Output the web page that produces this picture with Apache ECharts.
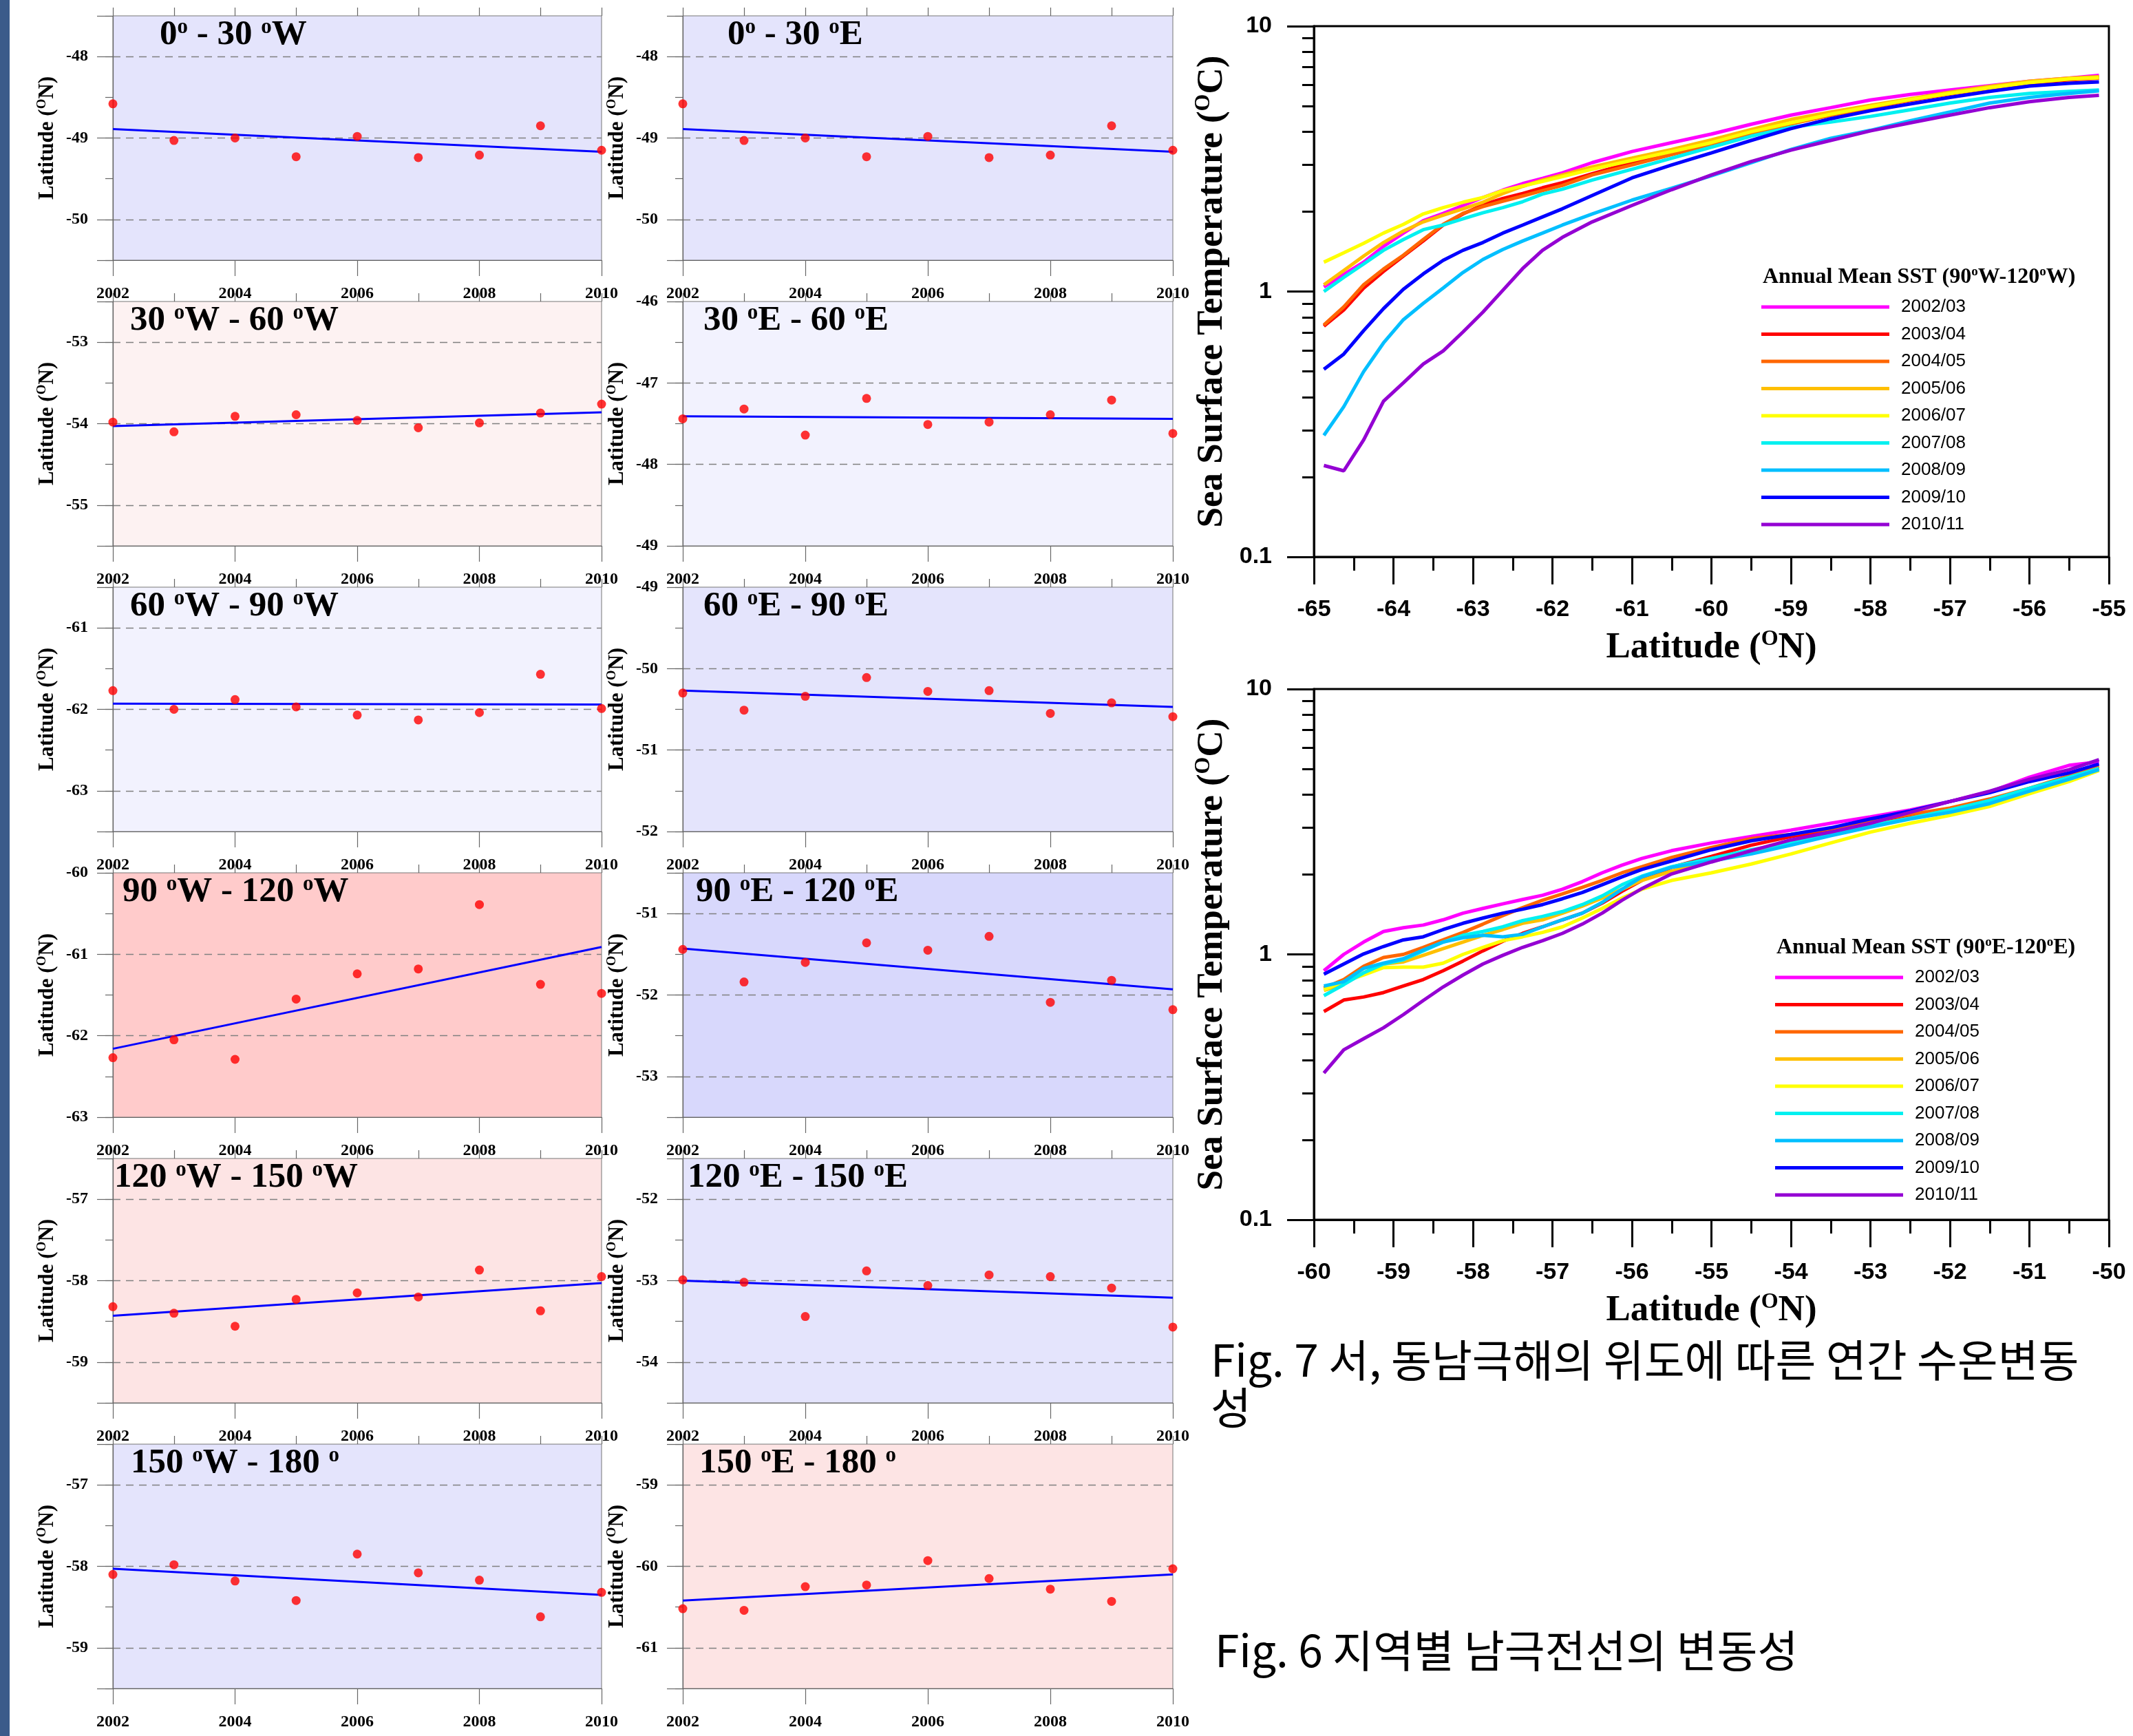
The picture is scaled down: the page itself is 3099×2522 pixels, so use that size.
<!DOCTYPE html>
<html>
<head>
<meta charset="utf-8">
<title>Fig. 6 / Fig. 7</title>
<script src="https://cdn.jsdelivr.net/npm/echarts@6/dist/echarts.min.js"></script>
<style>
html, body { margin: 0; padding: 0; background: #fff; }
#main { width: 3099px; height: 2522px; }
</style>
</head>
<body>
<div id="main"></div>
<script>
// ---- Fig. 6 : front latitude per year, 12 sectors ----
var years = [2002, 2003, 2004, 2005, 2006, 2007, 2008, 2009, 2010];

var front_0_30W    = [-48.58, -49.03, -49.00, -49.23, -48.98, -49.24, -49.21, -48.85, -49.15];
var front_0_30E    = [-48.58, -49.03, -49.00, -49.23, -48.98, -49.24, -49.21, -48.85, -49.15];
var front_30_60W   = [-53.98, -54.10, -53.91, -53.89, -53.96, -54.05, -53.99, -53.87, -53.76];
var front_30_60E   = [-47.44, -47.32, -47.64, -47.19, -47.51, -47.48, -47.39, -47.21, -47.62];
var front_60_90W   = [-61.77, -62.00, -61.88, -61.97, -62.07, -62.13, -62.04, -61.57, -61.99];
var front_60_90E   = [-50.30, -50.51, -50.34, -50.11, -50.28, -50.27, -50.55, -50.42, -50.59];
var front_90_120W  = [-62.27, -62.05, -62.29, -61.55, -61.24, -61.18, -60.39, -61.37, -61.48];
var front_90_120E  = [-51.44, -51.84, -51.60, -51.36, -51.45, -51.28, -52.09, -51.82, -52.18];
var front_120_150W = [-58.32, -58.40, -58.56, -58.23, -58.15, -58.20, -57.87, -58.37, -57.95];
var front_120_150E = [-52.99, -53.02, -53.44, -52.88, -53.06, -52.93, -52.95, -53.09, -53.57];
var front_150_180W = [-58.10, -57.98, -58.18, -58.42, -57.85, -58.08, -58.17, -58.62, -58.32];
var front_150_180E = [-60.52, -60.54, -60.25, -60.23, -59.93, -60.15, -60.28, -60.43, -60.03];

// trend line value at 2002 and at 2010
var trend_0_30W    = [-48.89, -49.17];
var trend_0_30E    = [-48.89, -49.17];
var trend_30_60W   = [-54.03, -53.86];
var trend_30_60E   = [-47.41, -47.44];
var trend_60_90W   = [-61.93, -61.94];
var trend_60_90E   = [-50.27, -50.47];
var trend_90_120W  = [-62.16, -60.91];
var trend_90_120E  = [-51.43, -51.93];
var trend_120_150W = [-58.43, -58.03];
var trend_120_150E = [-53.00, -53.21];
var trend_150_180W = [-58.03, -58.35];
var trend_150_180E = [-60.42, -60.10];

// y axis ranges
var range_0_30W    = [-50.5, -47.5];
var range_0_30E    = [-50.5, -47.5];
var range_30_60W   = [-55.5, -52.5];
var range_30_60E   = [-49, -46];
var range_60_90W   = [-63.5, -60.5];
var range_60_90E   = [-52, -49];
var range_90_120W  = [-63, -60];
var range_90_120E  = [-53.5, -50.5];
var range_120_150W = [-59.5, -56.5];
var range_120_150E = [-54.5, -51.5];
var range_150_180W = [-59.5, -56.5];
var range_150_180E = [-61.5, -58.5];

var panelTitles = [
    '{m|0}{s|o}{m| - 30 }{s|o}{m|W}', '{m|0}{s|o}{m| - 30 }{s|o}{m|E}',
    '{m|30 }{s|o}{m|W - 60 }{s|o}{m|W}', '{m|30 }{s|o}{m|E - 60 }{s|o}{m|E}',
    '{m|60 }{s|o}{m|W - 90 }{s|o}{m|W}', '{m|60 }{s|o}{m|E - 90 }{s|o}{m|E}',
    '{m|90 }{s|o}{m|W - 120 }{s|o}{m|W}', '{m|90 }{s|o}{m|E - 120 }{s|o}{m|E}',
    '{m|120 }{s|o}{m|W - 150 }{s|o}{m|W}', '{m|120 }{s|o}{m|E - 150 }{s|o}{m|E}',
    '{m|150 }{s|o}{m|W - 180 }{s|o}', '{m|150 }{s|o}{m|E - 180 }{s|o}'
];

// ---- Fig. 7 : annual mean SST against latitude ----
var seasons = ['2002/03', '2003/04', '2004/05', '2005/06', '2006/07', '2007/08', '2008/09', '2009/10', '2010/11'];

var latW = [-64.875, -64.625, -64.375, -64.125, -63.875, -63.625, -63.375, -63.125, -62.875, -62.625,
            -62.375, -62.125, -61.875, -61.5, -61, -60.5, -60, -59.5, -59, -58.5, -58, -57.5, -57,
            -56.5, -56, -55.5, -55.125];
var sstW_0203 = [1.04, 1.16, 1.29, 1.48, 1.66, 1.85, 1.97, 2.11, 2.26, 2.41, 2.55, 2.67, 2.80, 3.06, 3.37, 3.64, 3.92, 4.27, 4.62, 4.93, 5.27, 5.53, 5.75, 5.97, 6.20, 6.37, 6.52];
var sstW_0304 = [0.74, 0.852, 1.03, 1.19, 1.36, 1.55, 1.78, 1.96, 2.12, 2.24, 2.34, 2.46, 2.57, 2.78, 3.06, 3.30, 3.59, 3.98, 4.30, 4.62, 4.93, 5.25, 5.55, 5.84, 6.09, 6.28, 6.37];
var sstW_0405 = [0.748, 0.875, 1.06, 1.215, 1.37, 1.57, 1.79, 1.97, 2.09, 2.19, 2.29, 2.40, 2.51, 2.75, 3.00, 3.28, 3.57, 3.95, 4.28, 4.62, 4.93, 5.27, 5.58, 5.86, 6.13, 6.32, 6.42];
var sstW_0506 = [1.06, 1.20, 1.36, 1.53, 1.69, 1.83, 1.94, 2.05, 2.17, 2.34, 2.49, 2.63, 2.75, 2.95, 3.18, 3.43, 3.73, 4.08, 4.45, 4.75, 5.03, 5.33, 5.64, 5.93, 6.20, 6.37, 6.45];
var sstW_0607 = [1.29, 1.40, 1.52, 1.66, 1.79, 1.96, 2.07, 2.17, 2.26, 2.40, 2.50, 2.60, 2.71, 2.89, 3.12, 3.37, 3.64, 4.00, 4.32, 4.66, 4.97, 5.29, 5.58, 5.86, 6.13, 6.32, 6.39];
var sstW_0708 = [1.00, 1.13, 1.27, 1.43, 1.57, 1.71, 1.78, 1.88, 1.98, 2.07, 2.18, 2.33, 2.43, 2.63, 2.89, 3.18, 3.50, 3.85, 4.16, 4.35, 4.57, 4.84, 5.13, 5.39, 5.58, 5.68, 5.75];
var sstW_0809 = [0.287, 0.368, 0.499, 0.64, 0.783, 0.902, 1.03, 1.18, 1.32, 1.44, 1.55, 1.66, 1.78, 1.96, 2.21, 2.45, 2.73, 3.06, 3.43, 3.78, 4.05, 4.40, 4.75, 5.13, 5.39, 5.58, 5.70];
var sstW_0910 = [0.509, 0.581, 0.712, 0.862, 1.02, 1.165, 1.31, 1.43, 1.53, 1.66, 1.78, 1.91, 2.05, 2.30, 2.68, 3.00, 3.33, 3.71, 4.11, 4.48, 4.80, 5.09, 5.39, 5.68, 5.95, 6.09, 6.16];
var sstW_1011 = [0.221, 0.211, 0.276, 0.386, 0.453, 0.533, 0.597, 0.704, 0.836, 1.01, 1.22, 1.43, 1.60, 1.83, 2.11, 2.42, 2.75, 3.09, 3.41, 3.71, 4.03, 4.32, 4.62, 4.93, 5.19, 5.39, 5.49];

var latE = [-59.875, -59.625, -59.375, -59.125, -58.875, -58.625, -58.375, -58.125, -57.875, -57.625,
            -57.375, -57.125, -56.875, -56.625, -56.375, -56.125, -55.875, -55.5, -55, -54.5, -54,
            -53.5, -53, -52.5, -52, -51.5, -51, -50.5, -50.125];
var sstE_0203 = [0.868, 1.0, 1.113, 1.22, 1.26, 1.29, 1.35, 1.43, 1.49, 1.55, 1.61, 1.67, 1.76, 1.88, 2.03, 2.17, 2.30, 2.46, 2.63, 2.78, 2.94, 3.12, 3.30, 3.50, 3.77, 4.10, 4.65, 5.16, 5.32];
var sstE_0304 = [0.609, 0.673, 0.691, 0.718, 0.76, 0.804, 0.868, 0.944, 1.031, 1.121, 1.20, 1.27, 1.35, 1.43, 1.56, 1.73, 1.90, 2.13, 2.34, 2.58, 2.78, 2.94, 3.12, 3.30, 3.52, 3.80, 4.20, 4.65, 5.02];
var sstE_0405 = [0.746, 0.804, 0.902, 0.974, 1.0, 1.063, 1.134, 1.21, 1.30, 1.40, 1.50, 1.60, 1.69, 1.79, 1.90, 2.03, 2.14, 2.32, 2.53, 2.73, 2.83, 2.98, 3.18, 3.37, 3.56, 3.85, 4.23, 4.71, 5.12];
var sstE_0506 = [0.731, 0.774, 0.852, 0.92, 0.937, 0.992, 1.051, 1.113, 1.18, 1.24, 1.31, 1.35, 1.43, 1.52, 1.63, 1.76, 1.90, 2.06, 2.25, 2.43, 2.63, 2.83, 3.06, 3.26, 3.50, 3.77, 4.15, 4.60, 5.02];
var sstE_0607 = [0.737, 0.789, 0.836, 0.892, 0.895, 0.895, 0.927, 1.0, 1.063, 1.126, 1.165, 1.21, 1.27, 1.37, 1.49, 1.63, 1.76, 1.90, 2.03, 2.19, 2.39, 2.63, 2.89, 3.12, 3.34, 3.61, 4.03, 4.48, 4.93];
var sstE_0708 = [0.699, 0.769, 0.852, 0.92, 0.955, 1.031, 1.113, 1.18, 1.22, 1.27, 1.34, 1.39, 1.45, 1.54, 1.66, 1.83, 1.97, 2.14, 2.30, 2.48, 2.63, 2.83, 3.06, 3.26, 3.50, 3.80, 4.23, 4.65, 5.02];
var sstE_0809 = [0.76, 0.789, 0.885, 0.927, 0.963, 1.039, 1.113, 1.156, 1.18, 1.165, 1.19, 1.27, 1.35, 1.43, 1.57, 1.76, 1.96, 2.13, 2.25, 2.39, 2.58, 2.80, 3.02, 3.24, 3.43, 3.70, 4.12, 4.57, 4.97];
var sstE_0910 = [0.842, 0.92, 1.004, 1.071, 1.134, 1.165, 1.24, 1.31, 1.37, 1.43, 1.48, 1.54, 1.62, 1.71, 1.83, 1.96, 2.09, 2.25, 2.48, 2.68, 2.83, 3.00, 3.24, 3.47, 3.77, 4.07, 4.48, 4.83, 5.22];
var sstE_1011 = [0.357, 0.437, 0.481, 0.529, 0.593, 0.67, 0.754, 0.836, 0.92, 0.992, 1.063, 1.126, 1.20, 1.30, 1.43, 1.60, 1.77, 2.01, 2.23, 2.46, 2.70, 2.89, 3.12, 3.43, 3.77, 4.12, 4.57, 4.97, 5.42];

var sstMinorTicks = [0.2, 0.3, 0.4, 0.5, 0.6, 0.7, 0.8, 0.9, 2, 3, 4, 5, 6, 7, 8, 9];

// ---- styles ----
var serif = 'Liberation Serif';
var sans = 'Liberation Sans';
var panelBg = ['#e4e4fc', '#e4e4fc', '#fdf2f2', '#f2f2fe', '#f2f2fe', '#e4e4fc',
               '#ffcbcb', '#d8d8fc', '#fde4e4', '#e4e4fc', '#e4e4fc', '#fde4e4'];
var titleLeft = [232, 1057, 189, 1022, 189, 1022, 178, 1011, 166, 999, 190, 1016];
var seasonColors = ['#ff00ff', '#ff0000', '#ff6600', '#ffbf00', '#ffff00', '#00f0f0', '#00bfff', '#0000ff', '#9400d3'];

var panelFront = [front_0_30W, front_0_30E, front_30_60W, front_30_60E, front_60_90W, front_60_90E,
                  front_90_120W, front_90_120E, front_120_150W, front_120_150E, front_150_180W, front_150_180E];
var panelTrend = [trend_0_30W, trend_0_30E, trend_30_60W, trend_30_60E, trend_60_90W, trend_60_90E,
                  trend_90_120W, trend_90_120E, trend_120_150W, trend_120_150E, trend_150_180W, trend_150_180E];
var panelRange = [range_0_30W, range_0_30E, range_30_60W, range_30_60E, range_60_90W, range_60_90E,
                  range_90_120W, range_90_120E, range_120_150W, range_120_150E, range_150_180W, range_150_180E];

var option = {
    animation: false,
    backgroundColor: '#ffffff',
    grid: [], xAxis: [], yAxis: [], series: [], title: [], legend: [], graphic: []
};

var grayAxis = {color: '#666', width: 1.2};
var smallLabel = {fontFamily: serif, fontWeight: 'bold', fontSize: 24, color: '#000'};

panelFront.forEach(function (front, i) {
    var col = i % 2, row = Math.floor(i / 2);
    var left = col === 0 ? 164 : 992;
    var top = 23 + row * 415;
    option.grid.push({
        left: left, top: top, width: col === 0 ? 710 : 712, height: 355,
        show: true, backgroundColor: panelBg[i], borderColor: '#777', borderWidth: 1
    });
    option.xAxis.push({
        gridIndex: i, type: 'value', min: 2002, max: 2010, interval: 2,
        axisLine: {lineStyle: grayAxis},
        axisTick: {length: 23, lineStyle: grayAxis},
        axisLabel: Object.assign({margin: 37, formatter: function (v) { return String(v); }}, smallLabel),
        splitLine: {show: false}
    }, {
        gridIndex: i, type: 'value', min: 2002, max: 2010, interval: 1,
        axisLine: {show: false},
        axisTick: {length: 12, lineStyle: grayAxis},
        axisLabel: {show: false},
        splitLine: {show: false}
    });
    option.yAxis.push({
        gridIndex: i, type: 'value', min: panelRange[i][0], max: panelRange[i][1], splitNumber: 3,
        axisLine: {show: true, lineStyle: grayAxis},
        axisTick: {length: 23, lineStyle: grayAxis},
        axisLabel: Object.assign({margin: 36, formatter: function (v) { return v % 1 === 0 ? String(v) : ''; }}, smallLabel),
        splitLine: {show: true, showMinLine: false, showMaxLine: false,
                    lineStyle: {type: [11, 8], color: '#808080', width: 1.4}},
        name: '{t|Latitude (}{s|O}{t|N)}', nameLocation: 'middle', nameRotate: 90, nameGap: 78,
        nameTextStyle: {rich: {
            t: {fontFamily: serif, fontWeight: 'bold', fontSize: 31, lineHeight: 34, color: '#000'},
            s: {fontFamily: serif, fontWeight: 'bold', fontSize: 19, lineHeight: 19, verticalAlign: 'top', color: '#000'}
        }}
    }, {
        gridIndex: i, type: 'value', min: panelRange[i][0], max: panelRange[i][1], interval: 0.5,
        position: 'left',
        axisLine: {show: false},
        axisTick: {length: 11, lineStyle: grayAxis},
        axisLabel: {show: false},
        splitLine: {show: false}
    });
    option.series.push({
        type: 'line', xAxisIndex: 2 * i, yAxisIndex: 2 * i, clip: false, silent: true,
        data: [[2002, panelTrend[i][0]], [2010, panelTrend[i][1]]],
        symbol: 'none', lineStyle: {color: '#0000ff', width: 3}, z: 3
    }, {
        type: 'scatter', xAxisIndex: 2 * i, yAxisIndex: 2 * i, clip: false, silent: true,
        data: years.map(function (y, k) { return [y, front[k]]; }),
        symbol: 'circle', symbolSize: 13, itemStyle: {color: '#ff0000'}, z: 4
    });
    option.title.push({
        text: panelTitles[i], left: titleLeft[i], top: top + 1, padding: 0,
        textStyle: {rich: {
            m: {fontFamily: serif, fontWeight: 'bold', fontSize: 51, lineHeight: 54, color: '#000'},
            s: {fontFamily: serif, fontWeight: 'bold', fontSize: 31, lineHeight: 31, verticalAlign: 'top', color: '#000'}
        }}
    });
});

// two SST panels
var bigRich = {
    t: {fontFamily: serif, fontWeight: 'bold', fontSize: 53, lineHeight: 56, color: '#000'},
    s: {fontFamily: serif, fontWeight: 'bold', fontSize: 32, lineHeight: 32, verticalAlign: 'top', color: '#000'}
};
var blackAxis = {color: '#000', width: 3};

var addSstChart = function (g, top, lat, xmin, rows, legendTitle, legendLeft, legendTop) {
    var xi = option.xAxis.length, yi = option.yAxis.length;
    option.grid.push({left: 1909, top: top, width: 1155, height: 771, show: true, borderColor: '#000', borderWidth: 3});
    option.xAxis.push({
        gridIndex: g, type: 'value', min: xmin, max: xmin + 10, interval: 1,
        axisLine: {lineStyle: blackAxis},
        axisTick: {length: 40, lineStyle: blackAxis},
        minorTick: {show: true, splitNumber: 2, length: 20, lineStyle: blackAxis},
        axisLabel: {margin: 60, fontFamily: sans, fontWeight: 'bold', fontSize: 34, color: '#000',
                    formatter: function (v) { return String(v); }},
        splitLine: {show: false},
        name: '{t|Latitude (}{s|O}{t|N)}', nameLocation: 'middle', nameGap: 104,
        nameTextStyle: {rich: bigRich}
    });
    option.yAxis.push({
        gridIndex: g, type: 'log', logBase: 10, min: 0.1, max: 10,
        axisLine: {show: true, lineStyle: blackAxis},
        axisTick: {length: 39, lineStyle: blackAxis},
        axisLabel: {margin: 61, fontFamily: sans, fontWeight: 'bold', fontSize: 34, color: '#000',
                    formatter: function (v) { return String(+(+v).toPrecision(3)); }},
        splitLine: {show: false},
        name: '{t|Sea Surface Temperature (}{s|O}{t|C)}', nameLocation: 'middle', nameRotate: 90, nameGap: 120,
        nameTextStyle: {rich: bigRich}
    }, {
        gridIndex: g, type: 'log', logBase: 10, min: 0.1, max: 10, position: 'left',
        axisLine: {show: false},
        axisTick: {length: 17, lineStyle: blackAxis, customValues: sstMinorTicks},
        axisLabel: {show: false},
        splitLine: {show: false}
    });
    rows.forEach(function (vals, k) {
        option.series.push({
            name: seasons[k], type: 'line', xAxisIndex: xi, yAxisIndex: yi, silent: true,
            data: lat.map(function (x, j) { return [x, vals[j]]; }),
            symbol: 'none', color: seasonColors[k],
            lineStyle: {color: seasonColors[k], width: 5},
            itemStyle: {color: seasonColors[k]}, z: 3
        });
    });
    option.legend.push({
        left: legendLeft, top: legendTop, orient: 'vertical', icon: 'rect',
        itemWidth: 186, itemHeight: 5, itemGap: 13.5, selectedMode: false, padding: 0,
        data: seasons,
        textStyle: {fontFamily: sans, fontSize: 26, lineHeight: 26, color: '#000', padding: [0, 0, 0, 12]}
    });
    option.title.push({
        text: legendTitle, left: legendLeft + 2, top: legendTop - 47, padding: 0,
        textStyle: {rich: {
            b: {fontFamily: serif, fontWeight: 'bold', fontSize: 32, lineHeight: 34, color: '#000'},
            s: {fontFamily: serif, fontWeight: 'bold', fontSize: 19, lineHeight: 19, verticalAlign: 'top', color: '#000'}
        }}
    });
};

addSstChart(12, 38, latW, -65,
    [sstW_0203, sstW_0304, sstW_0405, sstW_0506, sstW_0607, sstW_0708, sstW_0809, sstW_0910, sstW_1011],
    '{b|Annual Mean SST (90}{s|o}{b|W-120}{s|o}{b|W)}', 2559, 433);
addSstChart(13, 1001, latE, -60,
    [sstE_0203, sstE_0304, sstE_0405, sstE_0506, sstE_0607, sstE_0708, sstE_0809, sstE_0910, sstE_1011],
    '{b|Annual Mean SST (90}{s|o}{b|E-120}{s|o}{b|E)}', 2579, 1407);

// side strip and captions
option.graphic = [
    {type: 'rect', left: 0, top: 0, shape: {width: 14, height: 2522}, style: {fill: '#3b5b8a'}, silent: true},
    {type: 'text', left: 1759, top: 1941, silent: true,
     style: {text: 'Fig. 7 서, 동남극해의 위도에 따른 연간 수온변동\n성', fontFamily: 'Noto Sans CJK KR', fontSize: 64, lineHeight: 69, fill: '#000'}},
    {type: 'text', left: 1765, top: 2363, silent: true,
     style: {text: 'Fig. 6 지역별 남극전선의 변동성', fontFamily: 'Noto Sans CJK KR', fontSize: 64, lineHeight: 69, fill: '#000'}}
];

var chart = echarts.init(document.getElementById('main'));
chart.setOption(option);
window.addEventListener('resize', function () {
    chart.resize();
});
</script>
</body>
</html>
